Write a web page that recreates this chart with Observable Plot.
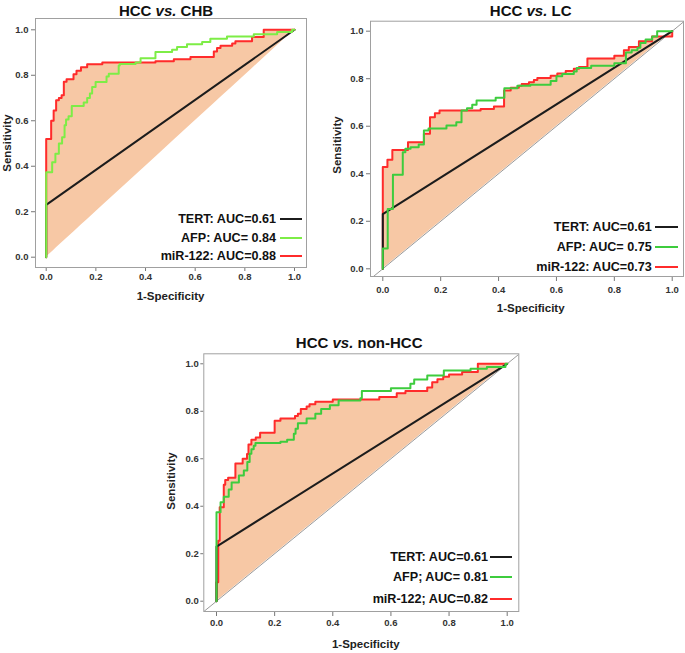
<!DOCTYPE html>
<html><head><meta charset="utf-8">
<script src="https://cdn.jsdelivr.net/npm/d3@7"></script>
<script src="https://cdn.jsdelivr.net/npm/@observablehq/plot@0.6"></script>
<style>
body{margin:0;background:#fff;}
#root{position:relative;width:685px;height:653px;overflow:hidden;font-family:"Liberation Sans",Arial,sans-serif;font-weight:bold;color:#111;background:#fff;}
.panel{position:absolute;}
.title{position:absolute;font-size:15px;line-height:1;transform:translate(-50%,-50%);white-space:nowrap;}
.xlab{position:absolute;font-size:11.5px;line-height:1;transform:translate(-50%,-50%);white-space:nowrap;color:#222;}
.ylab{position:absolute;font-size:11.5px;line-height:1;transform:translate(-50%,-50%) rotate(-90deg);white-space:nowrap;color:#222;}
.leg{position:absolute;font-size:12.6px;line-height:1;white-space:nowrap;transform:translate(-100%,-50%);color:#111;}
.sw{position:absolute;height:2px;transform:translateY(-50%);}
</style>
</head><body><div id="root"></div>
<script>
// ---------- data (step points: at fpr x the curve jumps up to tpr y) ----------
const tickValues = [0, 0.2, 0.4, 0.6, 0.8, 1.0];
const tertRoc = [[0, 0], [0, 0.23], [1, 1]];   // TERT AUC = 0.61 (same in all panels)

// HCC vs. CHB
const chbMiR122 = [[0,0.52],[0.02,0.60],[0.03,0.645],[0.04,0.69],[0.051,0.70],[0.062,0.712],[0.071,0.772],[0.082,0.783],[0.11,0.805],[0.122,0.82],[0.14,0.835],[0.165,0.848],[0.226,0.856],[0.44,0.862],[0.514,0.87],[0.581,0.88],[0.675,0.905],[0.688,0.92],[0.702,0.93],[0.749,0.94],[0.762,0.95],[0.829,0.968],[0.876,1.0],[1,1]];
const chbAFP = [[0,0.374],[0.024,0.418],[0.037,0.455],[0.051,0.50],[0.064,0.528],[0.074,0.58],[0.08,0.605],[0.09,0.62],[0.103,0.665],[0.151,0.68],[0.165,0.70],[0.176,0.72],[0.185,0.748],[0.199,0.77],[0.243,0.795],[0.252,0.807],[0.292,0.843],[0.296,0.85],[0.36,0.856],[0.38,0.875],[0.44,0.902],[0.507,0.912],[0.527,0.924],[0.567,0.936],[0.628,0.946],[0.661,0.961],[0.728,0.971],[0.836,0.98],[0.93,0.99],[0.99,1.0],[1,1]];
const chbLabels = ["TERT: AUC=0.61", "AFP: AUC= 0.84", "miR-122: AUC=0.88"];

// HCC vs. LC
const lcMiR122 = [[0,0.428],[0.016,0.459],[0.033,0.50],[0.087,0.533],[0.142,0.568],[0.163,0.638],[0.18,0.655],[0.196,0.666],[0.338,0.672],[0.384,0.683],[0.419,0.75],[0.442,0.762],[0.47,0.77],[0.48,0.778],[0.505,0.785],[0.522,0.795],[0.534,0.803],[0.58,0.812],[0.603,0.822],[0.632,0.832],[0.66,0.842],[0.678,0.849],[0.707,0.885],[0.80,0.897],[0.833,0.92],[0.85,0.933],[0.885,0.958],[0.93,0.978],[1,1]];
const lcAFP = [[0,0.085],[0.017,0.252],[0.035,0.396],[0.069,0.491],[0.078,0.505],[0.096,0.512],[0.124,0.523],[0.142,0.582],[0.158,0.59],[0.22,0.603],[0.254,0.617],[0.272,0.666],[0.291,0.676],[0.309,0.69],[0.324,0.708],[0.39,0.72],[0.42,0.76],[0.465,0.77],[0.51,0.775],[0.58,0.79],[0.6,0.81],[0.62,0.82],[0.66,0.83],[0.67,0.845],[0.72,0.855],[0.80,0.865],[0.84,0.91],[0.86,0.92],[0.88,0.93],[0.89,0.95],[0.908,0.965],[0.931,0.978],[0.948,1.0],[1,1]];
const lcLabels = ["TERT: AUC=0.61", "AFP: AUC= 0.75", "miR-122: AUC=0.73"];

// HCC vs. non-HCC
const nonMiR122 = [[0,0.08],[0.006,0.255],[0.011,0.396],[0.025,0.49],[0.03,0.51],[0.04,0.52],[0.065,0.58],[0.09,0.60],[0.105,0.62],[0.11,0.66],[0.12,0.68],[0.135,0.69],[0.15,0.71],[0.2,0.76],[0.22,0.77],[0.27,0.78],[0.28,0.79],[0.29,0.81],[0.31,0.82],[0.32,0.83],[0.34,0.84],[0.40,0.85],[0.56,0.86],[0.62,0.876],[0.65,0.885],[0.725,0.90],[0.742,0.922],[0.76,0.935],[0.78,0.945],[0.80,0.955],[0.845,0.965],[0.899,1.0],[1,1]];
const nonAFP = [[0,0.375],[0.014,0.417],[0.025,0.44],[0.042,0.47],[0.052,0.50],[0.077,0.529],[0.094,0.551],[0.106,0.586],[0.114,0.621],[0.12,0.64],[0.128,0.655],[0.134,0.666],[0.22,0.672],[0.243,0.68],[0.266,0.705],[0.272,0.726],[0.28,0.75],[0.31,0.77],[0.34,0.79],[0.36,0.81],[0.39,0.825],[0.42,0.845],[0.495,0.855],[0.50,0.885],[0.6,0.897],[0.667,0.916],[0.68,0.934],[0.725,0.951],[0.782,0.972],[0.874,0.979],[0.93,0.986],[0.994,1.0],[1,1]];
const nonLabels = ["TERT: AUC=0.61", "AFP; AUC= 0.81", "miR-122; AUC=0.82"];

// ---------- styling / layout ----------
const RED = "#ff2b2b", BLACK = "#1c1c1c", FILL = "#f7c8a5";
const panels = [
  {title: ["HCC ", "vs.", " CHB"], mir: chbMiR122, afp: chbAFP, labels: chbLabels, green: "#7ded46", diag: false,
   left: 0, top: 0, width: 310, height: 300, m: [18, 4, 33, 35], xd: [-0.0431, 1.0483], yd: [-0.0453, 1.0497],
   xt: [4, 2], yt: [4, 3],
   titlePos: [166, 9.5], xlabPos: [170.5, 297], ylabPos: [7.5, 142.5],
   legRight: 276, sw: [280, 302], legY: [219, 237.5, 256]},
  {title: ["HCC ", "vs.", " LC"], mir: lcMiR122, afp: lcAFP, labels: lcLabels, green: "#3dcc3d", diag: true,
   left: 325, top: 0, width: 360, height: 320, m: [20.7, 2, 44, 45], xd: [-0.0425, 1.039], yd: [-0.0324, 1.042],
   xt: [5, 5], yt: [4, 3],
   titlePos: [530.7, 9.5], xlabPos: [530.7, 309.3], ylabPos: [338.3, 145],
   legRight: 651.7, sw: [655, 678], legY: [227, 246.7, 266.7]},
  {title: ["HCC ", "vs.", " non-HCC"], mir: nonMiR122, afp: nonAFP, labels: nonLabels, green: "#3dcc3d", diag: true,
   left: 160, top: 330, width: 370, height: 323, m: [23.3, 11.7, 42, 43.3], xd: [-0.0437, 1.0399], yd: [-0.0434, 1.0421],
   xt: [5, 3], yt: [3, 2],
   titlePos: [359.2, 342.3], xlabPos: [365.8, 645], ylabPos: [171.7, 481],
   legRight: 488, sw: [490, 511.7], legY: [556.5, 576.5, 599.3]}
];

function expandSteps(steps) {
  const pts = [{x: 0, y: 0}];
  let py = 0;
  for (const [x, y] of steps) { pts.push({x, y: py}); pts.push({x, y}); py = y; }
  return pts;
}

const root = document.getElementById("root");
function addDiv(cls, html, x, y) {
  const d = document.createElement("div");
  d.className = cls; d.innerHTML = html;
  d.style.left = x + "px"; d.style.top = y + "px";
  root.appendChild(d); return d;
}

for (const p of panels) {
  const mirPts = expandSteps(p.mir);
  const afpPts = expandSteps(p.afp);
  const tertPts = tertRoc.map(([x, y]) => ({x, y}));
  const lo = Math.min(p.xd[0], p.yd[0]), hi = Math.max(p.xd[1], p.yd[1]);
  const diagPts = [{x: lo, y: lo}, {x: hi, y: hi}];

  const marks = [
    Plot.areaY(mirPts, {x: "x", y1: d => d.x, y2: "y", fill: FILL, curve: "linear"}),
    p.diag ? Plot.line(diagPts, {x: "x", y: "y", stroke: "#9a9a9a", strokeWidth: 1, clip: true}) : null,
    Plot.line(mirPts, {x: "x", y: "y", stroke: RED, strokeWidth: 2, curve: "linear"}),
    Plot.line(tertPts, {x: "x", y: "y", stroke: BLACK, strokeWidth: 2}),
    Plot.line(afpPts, {x: "x", y: "y", stroke: p.green, strokeWidth: 2, curve: "linear"}),
    Plot.axisX({ticks: tickValues, tickFormat: d3.format(".1f"), tickSize: p.xt[0], tickPadding: p.xt[1],
                fontSize: 9.5, fill: "#333", stroke: "#777", label: null}),
    Plot.axisY({ticks: tickValues, tickFormat: d3.format(".1f"), tickSize: p.yt[0], tickPadding: p.yt[1],
                fontSize: 9.5, fill: "#333", stroke: "#777", label: null}),
    Plot.frame({stroke: "#a0a0a0", strokeWidth: 1})
  ].filter(Boolean);

  const svg = Plot.plot({
    width: p.width, height: p.height,
    marginTop: p.m[0], marginRight: p.m[1], marginBottom: p.m[2], marginLeft: p.m[3],
    x: {domain: p.xd},
    y: {domain: p.yd},
    style: {fontFamily: "'Liberation Sans', Arial, sans-serif", fontWeight: "bold", background: "transparent", overflow: "visible"},
    marks
  });
  const holder = document.createElement("div");
  holder.className = "panel";
  holder.style.left = p.left + "px"; holder.style.top = p.top + "px";
  holder.appendChild(svg);
  root.appendChild(holder);

  addDiv("title", `${p.title[0]}<i>${p.title[1]}</i>${p.title[2]}`, p.titlePos[0], p.titlePos[1]);
  addDiv("xlab", "1-Specificity", p.xlabPos[0], p.xlabPos[1]);
  addDiv("ylab", "Sensitivity", p.ylabPos[0], p.ylabPos[1]);
  const colors = [BLACK, p.green, RED];
  p.labels.forEach((lab, i) => {
    addDiv("leg", lab, p.legRight, p.legY[i]);
    const s = addDiv("sw", "", p.sw[0], p.legY[i]);
    s.style.width = (p.sw[1] - p.sw[0]) + "px";
    s.style.background = colors[i];
  });
}
</script>
</body></html>
